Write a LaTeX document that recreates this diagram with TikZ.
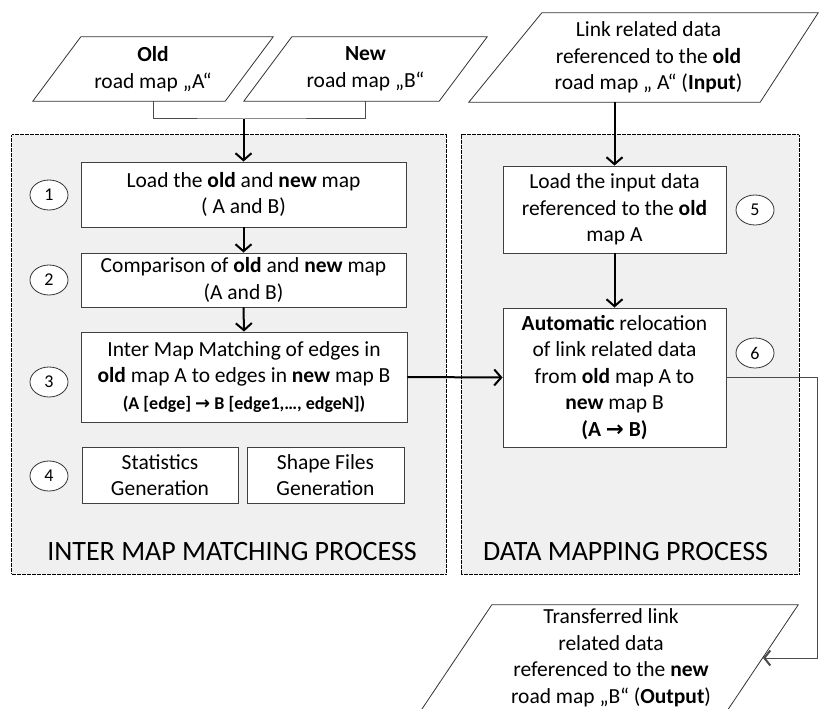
\documentclass[tikz,border=0pt]{standalone}
\usepackage{fontspec}
\setmainfont{Carlito}
\newfontfamily\symfont{DejaVu Sans}
\usetikzlibrary{positioning,shapes.geometric,arrows.meta}
\newcommand{\toarr}{{\symfont\bfseries\char"2192}}

\begin{document}
\begin{tikzpicture}[x=1bp, y=-1bp,
    panel/.style={draw=black, dash pattern=on 2bp off 0.5bp, line width=1bp, fill=gray!12},
    procbox/.style={draw=black!75, line width=0.9bp, fill=white, align=center, inner sep=1bp, font=\fontsize{21.5bp}{26.5bp}\selectfont},
    numtag/.style={ellipse, draw=black!80, line width=0.8bp, fill=white, minimum width=38bp, minimum height=30bp, inner sep=0pt, font=\fontsize{18bp}{20bp}\selectfont},
    datain/.style={align=center, inner sep=1bp, font=\fontsize{21.5bp}{26.5bp}\selectfont},
    slanted/.style={draw=black!80, line width=0.8bp, fill=white},
    flow/.style={line width=2bp, -{Straight Barb[length=7bp, width=16bp]}},
    link/.style={draw=black!70, line width=1bp},
]
\useasboundingbox (0, 0) rectangle (820, 709);

% Panels
\node[panel, minimum width=434bp, minimum height=439bp] (immpanel) at (229, 354.5) {};
\node[panel, minimum width=338bp, minimum height=439bp] (dmpanel) at (630, 354.5) {};
\node[font=\fontsize{28bp}{32bp}\selectfont] (immlabel) at (232, 552) {INTER MAP MATCHING PROCESS};
\node[font=\fontsize{28bp}{32bp}\selectfont] (dmlabel) at (625.5, 552) {DATA MAPPING PROCESS};

% Input maps (frames drawn behind the text)
\node[datain, minimum width=240bp, minimum height=64bp] (oldmap) at (153, 69) {};
\node[datain, minimum width=243bp, minimum height=64bp] (newmap) at (365.5, 69) {};
\node[datain, minimum width=349bp, minimum height=89bp] (indata) at (643.5, 57.5) {};
\draw[slanted] ([xshift=48bp]oldmap.north west) -- (oldmap.north east) -- ([xshift=-48bp]oldmap.south east) -- (oldmap.south west) -- cycle;
\draw[slanted] ([xshift=48bp]newmap.north west) -- (newmap.north east) -- ([xshift=-48bp]newmap.south east) -- (newmap.south west) -- cycle;
\draw[slanted] ([xshift=73bp]indata.north west) -- (indata.north east) -- ([xshift=-58bp]indata.south east) -- (indata.south west) -- cycle;
\node[datain] at (oldmap) {\textbf{Old}\\road map „A“};
\node[datain] at (newmap) {\textbf{New}\\road map „B“};
\node[datain] at ([xshift=5bp]indata.center) {Link related data\\referenced to the \textbf{old}\\road map „ A“ (\textbf{Input})};

% Inter map matching steps
\node[procbox, minimum width=325bp, minimum height=65bp] (loadmaps) at (243.5, 194.5) {Load the \textbf{old} and \textbf{new} map\\( A and B)};
\node[procbox, minimum width=325bp, minimum height=54bp] (compare) at (243.5, 280) {Comparison of \textbf{old} and \textbf{new} map\\(A and B)};
\node[procbox, minimum width=326bp, minimum height=90bp] (matching) at (244, 377) {Inter Map Matching of edges in\\\textbf{old} map A to edges in \textbf{new} map B\\{\fontsize{18bp}{20bp}\selectfont\bfseries (A [edge] \toarr{} B [edge1,…, edgeN])}};
\node[procbox, minimum width=156bp, minimum height=56bp] (stats) at (160, 475) {Statistics\\Generation};
\node[procbox, minimum width=157bp, minimum height=56bp] (shapes) at (325.5, 475) {Shape Files\\Generation};

% Data mapping steps
\node[procbox, minimum width=223bp, minimum height=87bp] (loaddata) at (614.5, 209.5) {Load the input data\\referenced to the \textbf{old}\\map A};
\node[procbox, minimum width=223bp, minimum height=139bp] (relocate) at (614.5, 377.5) {\textbf{Automatic} relocation\\of link related data\\from \textbf{old} map A to\\\textbf{new} map B\\\textbf{(A \toarr{} B)}};

% Step numbers
\node[numtag] (n1) at (49, 195) {1};
\node[numtag] (n2) at (49, 280) {2};
\node[numtag] (n3) at (49, 382) {3};
\node[numtag] (n4) at (49, 476) {4};
\node[numtag] (n5) at (755, 210) {5};
\node[numtag] (n6) at (755, 353) {6};

% Output data
\node[datain, minimum width=380bp, minimum height=110bp] (outdata) at (608, 660) {};
\draw[slanted] ([xshift=74bp]outdata.north west) -- (outdata.north east) -- ([xshift=-74bp]outdata.south east) -- (outdata.south west) -- cycle;
\node[datain] (outtext) at (611, 658) {Transferred link\\related data\\referenced to the \textbf{new}\\road map „B“ (\textbf{Output})};

% Connectors
\coordinate (join) at (243.5, 119);
\coordinate (turn) at (817, 380);
\coordinate (outedge) at (763, 658);
\draw[link] (oldmap.south) |- (join) -| (newmap.south);
\draw[flow] (join) -- (loadmaps.north);
\draw[flow] (loadmaps.south) -- (compare.north);
\draw[flow] (compare.south) -- (matching.north);
\draw[flow] (loaddata.north |- indata.south) -- (loaddata.north);
\draw[flow] (loaddata.south) -- (relocate.north);
\draw[flow] (matching.east) -- (relocate.west);
\draw[link, -{Straight Barb[length=6bp, width=15bp, line width=2bp]}] (relocate.east) -- (relocate.east -| turn) |- (outedge);

\end{tikzpicture}
\end{document}
